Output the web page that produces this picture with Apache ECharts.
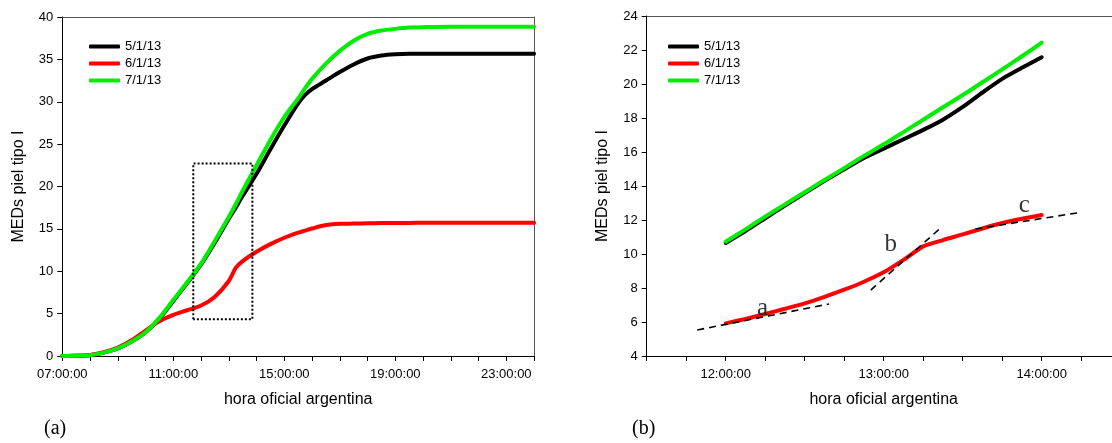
<!DOCTYPE html>
<html>
<head>
<meta charset="utf-8">
<script src="https://cdn.jsdelivr.net/npm/echarts@6/dist/echarts.min.js"></script>
<style>
  html, body { margin: 0; padding: 0; background: #fff; }
  #chart { width: 1112px; height: 443px; }
</style>
</head>
<body>
<div id="chart"></div>
<script>
// ---------------- DATA ----------------
const seriesNames = ['5/1/13', '6/1/13', '7/1/13'];
const seriesColors = ['#000000', '#ff0000', '#00ee00'];

// Panel (a): full day, hours (decimal)
const hoursA = [7, 7.5, 8, 8.5, 9, 9.5, 10, 10.5, 11, 11.5, 12, 12.5, 13, 13.25, 13.5, 14, 14.5, 15, 15.5, 15.75, 16, 16.5, 17, 17.5, 18, 18.5, 19, 19.5, 20, 21, 22, 23, 24];
const blackA = [0, 0.02, 0.1, 0.4, 0.9, 1.7, 2.8, 4.4, 6.5, 8.6, 10.8, 13.4, 16.2, 17.5, 18.9, 21.5, 24.4, 27.2, 29.8, 30.8, 31.5, 32.5, 33.5, 34.4, 35.1, 35.45, 35.6, 35.65, 35.65, 35.65, 35.65, 35.65, 35.65];
const redA   = [0, 0.02, 0.12, 0.45, 1.0, 1.85, 3.0, 4.1, 4.85, 5.4, 5.95, 7.0, 8.85, 10.4, 11.2, 12.3, 13.2, 13.95, 14.55, 14.8, 15.05, 15.45, 15.6, 15.62, 15.65, 15.68, 15.7, 15.7, 15.72, 15.73, 15.73, 15.73, 15.73];
const greenA = [0, 0.02, 0.1, 0.4, 0.9, 1.7, 2.8, 4.5, 6.6, 8.7, 10.9, 13.6, 16.4, 17.9, 19.5, 22.5, 25.5, 28.2, 30.4, 31.6, 32.7, 34.5, 36.0, 37.2, 38.0, 38.4, 38.6, 38.75, 38.8, 38.85, 38.85, 38.85, 38.85];
// dotted zoom box in panel (a)
const boxHours = [11.72, 13.85];
const boxMED = [4.33, 22.7];

// Panel (b): 12:00 - 14:00
const hoursB = [12, 12.125, 12.25, 12.375, 12.5, 12.625, 12.75, 12.875, 13, 13.125, 13.25, 13.375, 13.5, 13.625, 13.75, 13.875, 14];
const blackB = [10.65, 11.35, 12.1, 12.85, 13.58, 14.3, 14.98, 15.65, 16.2, 16.75, 17.3, 17.9, 18.65, 19.5, 20.3, 20.95, 21.57];
const redB   = [5.92, 6.18, 6.47, 6.78, 7.1, 7.48, 7.9, 8.37, 8.92, 9.65, 10.45, 10.82, 11.15, 11.5, 11.82, 12.07, 12.29];
const greenB = [10.72, 11.45, 12.2, 12.92, 13.63, 14.35, 15.05, 15.77, 16.45, 17.17, 17.9, 18.63, 19.35, 20.1, 20.86, 21.63, 22.43];
// dashed tangent lines (hour, MED)
const tangentA = [[11.82, 5.53], [12.654, 7.06]];
const tangentB = [[12.918, 7.88], [13.35, 11.45]];
const tangentC = [[13.58, 11.47], [14.247, 12.45]];
// annotation letters
const annotLabels = ['a', 'b', 'c'];
const annotHours = [12.234, 13.044, 13.89];
const annotMED = [6.82, 10.59, 12.88];

// ticks
const yTicksA = { min: 0, max: 40, interval: 5 };
const yTicksB = { min: 4, max: 24, interval: 2 };
const xLabelHoursA = [7, 11, 15, 19, 23];
const xLabelHoursB = [12, 13, 14];

const panelLabels = ['(a)', '(b)'];
const xTitle = 'hora oficial argentina';
const yTitle = 'MEDs piel tipo I';

// ---------------- CHART ----------------
const SANS = 'Liberation Sans, Arial, sans-serif';
const SERIF = 'Liberation Serif, Times New Roman, serif';

function fmtHour(v) {
  const h = Math.round(v);
  return (h < 10 ? '0' : '') + h + ':00:00';
}
function pairs(xs, ys) { return xs.map((x, i) => [x, ys[i]]); }

const chart = echarts.init(document.getElementById('chart'), null, { renderer: 'canvas' });

function xAxisCfg(gridIndex, min, max, interval, labelHours) {
  return {
    type: 'value', gridIndex, min, max, interval,
    name: xTitle, nameLocation: 'middle', nameGap: 36,
    nameTextStyle: { fontFamily: SANS, fontSize: 16, color: '#000' },
    axisLine: { show: true, onZero: false, lineStyle: { color: '#000', width: 1 } },
    axisTick: { show: true, length: 5, lineStyle: { color: '#000' } },
    splitLine: { show: false },
    axisLabel: {
      fontFamily: SANS, fontSize: 13, color: '#000', margin: 12,
      showMaxLabel: true, showMinLabel: true,
      formatter: v => labelHours.some(h => Math.abs(h - v) < 1e-6) ? fmtHour(v) : ''
    }
  };
}
function topLineAxis(gridIndex, min, max) {
  return {
    type: 'value', gridIndex, min, max, position: 'top',
    axisLine: { show: true, onZero: false, lineStyle: { color: '#555', width: 1 } },
    axisTick: { show: false }, axisLabel: { show: false }, splitLine: { show: false }
  };
}
function yAxisCfg(gridIndex, t) {
  return {
    type: 'value', gridIndex, min: t.min, max: t.max, interval: t.interval,
    name: yTitle, nameLocation: 'middle', nameGap: 36, nameRotate: 90,
    nameTextStyle: { fontFamily: SANS, fontSize: 16, color: '#000' },
    axisLine: { show: true, onZero: false, lineStyle: { color: '#000', width: 1 } },
    axisTick: { show: true, length: 5, lineStyle: { color: '#000' } },
    splitLine: { show: false },
    axisLabel: { fontFamily: SANS, fontSize: 13, color: '#000', margin: 9 }
  };
}
function rightLineAxis(gridIndex, t) {
  return {
    type: 'value', gridIndex, min: t.min, max: t.max, position: 'right',
    axisLine: { show: true, onZero: false, lineStyle: { color: '#555', width: 1 } },
    axisTick: { show: false }, axisLabel: { show: false }, splitLine: { show: false }
  };
}
function legendCfg(left) {
  return {
    data: seriesNames, orient: 'vertical', left, top: 40, padding: 0,
    itemWidth: 31, itemHeight: 4, itemGap: 4, icon: 'roundRect',
    textStyle: { fontFamily: SANS, fontSize: 13, color: '#000' },
    selectedMode: false
  };
}
function mainSeries(i, xs, ys, gi, smooth) {
  return {
    name: seriesNames[i], type: 'line', xAxisIndex: gi, yAxisIndex: gi,
    data: pairs(xs, ys), showSymbol: false, symbol: 'none',
    smooth: smooth,
    lineStyle: { color: seriesColors[i], width: 4, cap: 'round', join: 'round' },
    itemStyle: { color: seriesColors[i] },
    z: 3 + i, animation: false
  };
}
function dashSeries(pts) {
  return {
    type: 'line', xAxisIndex: 1, yAxisIndex: 1, data: pts, symbol: 'none',
    lineStyle: { color: '#000', width: 1.6, type: [7, 5] }, z: 10, animation: false,
    silent: true
  };
}

const boxPts = [
  [boxHours[0], boxMED[0]], [boxHours[0], boxMED[1]], [boxHours[1], boxMED[1]],
  [boxHours[1], boxMED[0]], [boxHours[0], boxMED[0]]
];

chart.setOption({
  animation: false,
  backgroundColor: '#fff',
  title: [
    { text: panelLabels[0], left: 44, top: 419, padding: 0,
      textStyle: { fontFamily: SERIF, fontSize: 20, fontWeight: 'normal', color: '#000' } },
    { text: panelLabels[1], left: 632, top: 419, padding: 0,
      textStyle: { fontFamily: SERIF, fontSize: 20, fontWeight: 'normal', color: '#000' } }
  ],
  legend: [legendCfg(89), legendCfg(668)],
  grid: [
    { left: 62.3, top: 17, width: 471.75, height: 339, show: false, containLabel: false, outerBoundsMode: 'none' },
    { left: 646.7, top: 16, width: 474, height: 340, show: false, containLabel: false, outerBoundsMode: 'none' }
  ],
  xAxis: [
    xAxisCfg(0, 7, 24, 1, xLabelHoursA),
    xAxisCfg(1, 11.5, 14.5, 0.25, xLabelHoursB),
    topLineAxis(0, 7, 24),
    topLineAxis(1, 11.5, 14.5)
  ],
  yAxis: [yAxisCfg(0, yTicksA), yAxisCfg(1, yTicksB), rightLineAxis(0, yTicksA)],
  series: [
    mainSeries(0, hoursA, blackA, 0, 0.3),
    mainSeries(1, hoursA, redA, 0, 0.3),
    mainSeries(2, hoursA, greenA, 0, 0.3),
    {
      type: 'line', xAxisIndex: 0, yAxisIndex: 0, data: boxPts, symbol: 'none',
      lineStyle: { color: '#000', width: 2, type: [2, 2] }, z: 10, animation: false, silent: true
    },
    mainSeries(0, hoursB, blackB, 1, 0.2),
    mainSeries(1, hoursB, redB, 1, 0.2),
    mainSeries(2, hoursB, greenB, 1, 0.2),
    dashSeries(tangentA),
    dashSeries(tangentB),
    dashSeries(tangentC),
    {
      type: 'scatter', xAxisIndex: 1, yAxisIndex: 1, symbolSize: 0, z: 12,
      data: annotLabels.map((n, i) => ({ name: n, value: [annotHours[i], annotMED[i]] })),
      label: { show: true, position: 'inside', formatter: '{b}',
        fontFamily: SERIF, fontSize: 25, color: '#000' },
      animation: false, silent: true
    }
  ]
});
</script>
</body>
</html>
